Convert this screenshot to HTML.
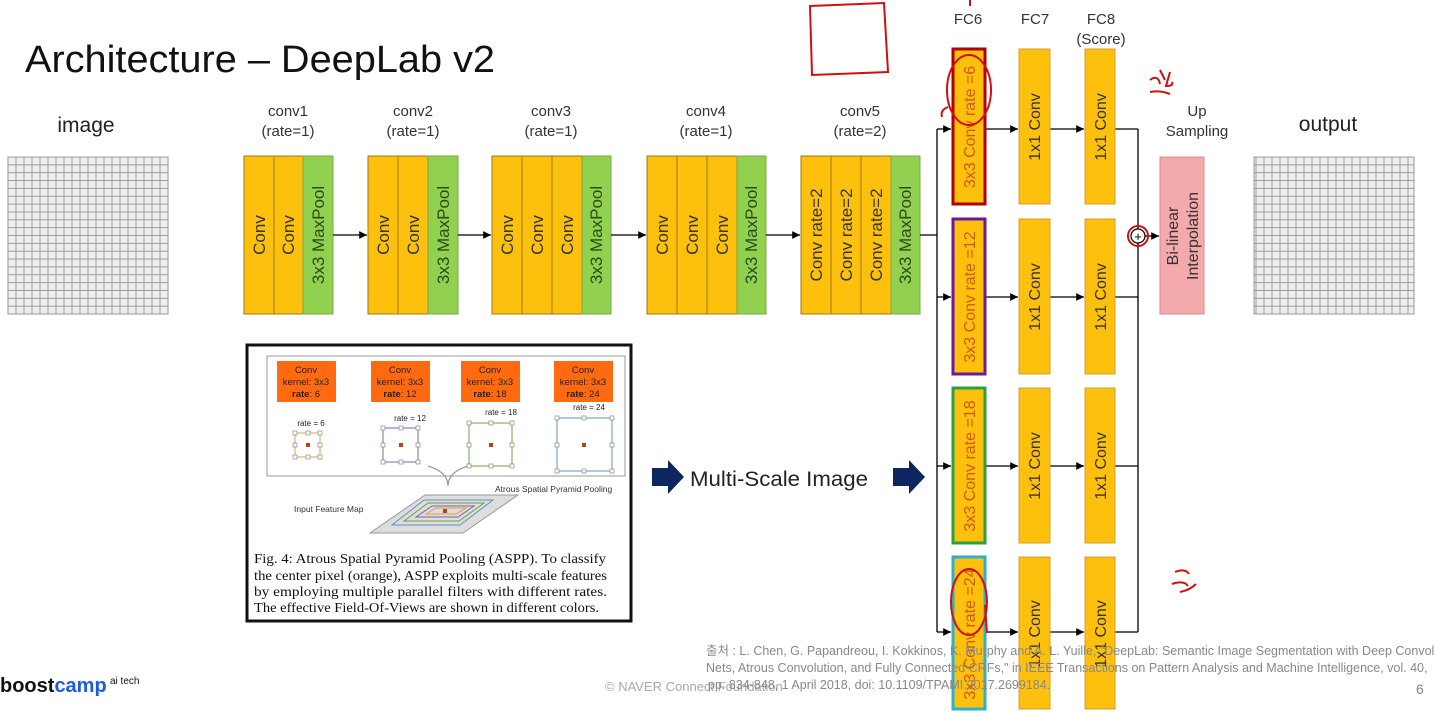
<!DOCTYPE html>
<html><head><meta charset="utf-8"><style>
html,body{margin:0;padding:0;background:#fff;}
svg{display:block;font-family:"Liberation Sans","Noto Sans CJK KR",sans-serif;}
</style></head><body>
<svg width="1435" height="714" viewBox="0 0 1435 714" xmlns="http://www.w3.org/2000/svg">
<defs>
<pattern id="g" width="8" height="7.85" patternUnits="userSpaceOnUse" x="8" y="157">
<rect width="8" height="7.85" fill="#eeeeee" stroke="#8a8a8a" stroke-width="0.8"/>
</pattern>
<marker id="a" viewBox="0 0 10 10" refX="10" refY="5" markerWidth="6" markerHeight="6" orient="auto"><path d="M0,0L10,5L0,10z" fill="#000"/></marker>
</defs>
<rect width="1435" height="714" fill="#fff"/>
<text x="25" y="72" font-size="38" fill="#111" textLength="470" lengthAdjust="spacingAndGlyphs">Architecture – DeepLab v2</text>

<text x="86" y="132" font-size="21" fill="#222" text-anchor="middle">image</text>
<rect x="8" y="157" width="160" height="157" fill="url(#g)" stroke="#999"/>
<text x="1328" y="131" font-size="21" fill="#222" text-anchor="middle">output</text>
<rect x="1254" y="157" width="160" height="157" fill="url(#g)" stroke="#999"/>

<g font-size="15" fill="#333" text-anchor="middle">
<text x="288" y="116">conv1</text><text x="288" y="136">(rate=1)</text>
<text x="413" y="116">conv2</text><text x="413" y="136">(rate=1)</text>
<text x="551" y="116">conv3</text><text x="551" y="136">(rate=1)</text>
<text x="706" y="116">conv4</text><text x="706" y="136">(rate=1)</text>
<text x="860" y="116">conv5</text><text x="860" y="136">(rate=2)</text>
<text x="968" y="24">FC6</text>
<text x="1035" y="24">FC7</text>
<text x="1101" y="24">FC8</text><text x="1101" y="44">(Score)</text>
<text x="1197" y="116">Up</text><text x="1197" y="136">Sampling</text>
</g>

<g stroke="#a07a10" stroke-width="1" font-size="17" fill="#333">
<rect x="244" y="156" width="30" height="158" fill="#fdc00d"/><rect x="274" y="156" width="29" height="158" fill="#fdc00d"/><rect x="303" y="156" width="30" height="158" fill="#92d050" stroke="#7aa84a"/>
<rect x="368" y="156" width="30" height="158" fill="#fdc00d"/><rect x="398" y="156" width="30" height="158" fill="#fdc00d"/><rect x="428" y="156" width="30" height="158" fill="#92d050" stroke="#7aa84a"/>
<rect x="492" y="156" width="30" height="158" fill="#fdc00d"/><rect x="522" y="156" width="30" height="158" fill="#fdc00d"/><rect x="552" y="156" width="30" height="158" fill="#fdc00d"/><rect x="582" y="156" width="29" height="158" fill="#92d050" stroke="#7aa84a"/>
<rect x="647" y="156" width="30" height="158" fill="#fdc00d"/><rect x="677" y="156" width="30" height="158" fill="#fdc00d"/><rect x="707" y="156" width="30" height="158" fill="#fdc00d"/><rect x="737" y="156" width="29" height="158" fill="#92d050" stroke="#7aa84a"/>
<rect x="801" y="156" width="30" height="158" fill="#fdc00d"/><rect x="831" y="156" width="30" height="158" fill="#fdc00d"/><rect x="861" y="156" width="30" height="158" fill="#fdc00d"/><rect x="891" y="156" width="29" height="158" fill="#92d050" stroke="#7aa84a"/>
</g>
<g font-size="17" fill="#333" stroke="none" text-anchor="middle">
<text transform="translate(265,235) rotate(-90)">Conv</text>
<text transform="translate(294,235) rotate(-90)">Conv</text>
<text transform="translate(324,235) rotate(-90)" fill="#2a4a1a">3x3 MaxPool</text>
<text transform="translate(389,235) rotate(-90)">Conv</text>
<text transform="translate(419,235) rotate(-90)">Conv</text>
<text transform="translate(449,235) rotate(-90)" fill="#2a4a1a">3x3 MaxPool</text>
<text transform="translate(513,235) rotate(-90)">Conv</text>
<text transform="translate(543,235) rotate(-90)">Conv</text>
<text transform="translate(573,235) rotate(-90)">Conv</text>
<text transform="translate(602,235) rotate(-90)" fill="#2a4a1a">3x3 MaxPool</text>
<text transform="translate(668,235) rotate(-90)">Conv</text>
<text transform="translate(698,235) rotate(-90)">Conv</text>
<text transform="translate(728,235) rotate(-90)">Conv</text>
<text transform="translate(757,235) rotate(-90)" fill="#2a4a1a">3x3 MaxPool</text>
<text transform="translate(822,235) rotate(-90)">Conv rate=2</text>
<text transform="translate(852,235) rotate(-90)">Conv rate=2</text>
<text transform="translate(882,235) rotate(-90)">Conv rate=2</text>
<text transform="translate(911,235) rotate(-90)" fill="#2a4a1a">3x3 MaxPool</text>
</g>
<g stroke="#000" stroke-width="1.3" fill="none">
<line x1="333" y1="235" x2="367" y2="235" marker-end="url(#a)"/>
<line x1="458" y1="235" x2="491" y2="235" marker-end="url(#a)"/>
<line x1="611" y1="235" x2="646" y2="235" marker-end="url(#a)"/>
<line x1="766" y1="235" x2="800" y2="235" marker-end="url(#a)"/>
<line x1="920" y1="235" x2="937" y2="235"/>
<line x1="937" y1="129" x2="937" y2="632"/>
<line x1="937" y1="129" x2="951" y2="129" marker-end="url(#a)"/>
<line x1="937" y1="297" x2="951" y2="297" marker-end="url(#a)"/>
<line x1="937" y1="466" x2="951" y2="466" marker-end="url(#a)"/>
<line x1="937" y1="632" x2="951" y2="632" marker-end="url(#a)"/>
<line x1="986" y1="129" x2="1018" y2="129" marker-end="url(#a)"/>
<line x1="986" y1="297" x2="1018" y2="297" marker-end="url(#a)"/>
<line x1="986" y1="466" x2="1018" y2="466" marker-end="url(#a)"/>
<line x1="986" y1="632" x2="1018" y2="632" marker-end="url(#a)"/>
<line x1="1050" y1="129" x2="1084" y2="129" marker-end="url(#a)"/>
<line x1="1050" y1="297" x2="1084" y2="297" marker-end="url(#a)"/>
<line x1="1050" y1="466" x2="1084" y2="466" marker-end="url(#a)"/>
<line x1="1050" y1="632" x2="1084" y2="632" marker-end="url(#a)"/>
<line x1="1115" y1="129" x2="1138" y2="129"/>
<line x1="1115" y1="297" x2="1138" y2="297"/>
<line x1="1115" y1="466" x2="1138" y2="466"/>
<line x1="1115" y1="632" x2="1138" y2="632"/>
<line x1="1138" y1="129" x2="1138" y2="229"/>
<line x1="1138" y1="243" x2="1138" y2="632"/>
<line x1="1145" y1="236" x2="1159" y2="236" marker-end="url(#a)"/>
</g>
<circle cx="1138" cy="236" r="7" fill="#fff" stroke="#000" stroke-width="1.2"/>
<text x="1138" y="241" font-size="13" text-anchor="middle">+</text>

<g stroke-width="3">
<rect x="953" y="49" width="32" height="155" fill="#fdc00d" stroke="#b00000"/>
<rect x="953" y="219" width="32" height="155" fill="#fdc00d" stroke="#6a1a9a"/>
<rect x="953" y="388" width="32" height="155" fill="#fdc00d" stroke="#2aa040"/>
<rect x="953" y="557" width="32" height="152" fill="#fdc00d" stroke="#2ab0d0"/>
</g>
<g fill="#fdc00d" stroke="#d0a030" stroke-width="1">
<rect x="1019" y="49" width="31" height="155"/><rect x="1019" y="219" width="31" height="155"/><rect x="1019" y="388" width="31" height="155"/><rect x="1019" y="557" width="31" height="152"/>
<rect x="1085" y="49" width="30" height="155"/><rect x="1085" y="219" width="30" height="155"/><rect x="1085" y="388" width="30" height="155"/><rect x="1085" y="557" width="30" height="152"/>
</g>
<rect x="1160" y="157" width="44" height="157" fill="#f4a9ad" stroke="#d88"/>
<g font-size="16" text-anchor="middle">
<g fill="#d05a00">
<text transform="translate(975,127) rotate(-90)">3x3 Conv rate =6</text>
<text transform="translate(975,297) rotate(-90)">3x3 Conv rate =12</text>
<text transform="translate(975,466) rotate(-90)">3x3 Conv rate =18</text>
<text transform="translate(975,634) rotate(-90)">3x3 Conv rate =24</text>
</g>
<g fill="#333">
<text transform="translate(1040,127) rotate(-90)">1x1 Conv</text>
<text transform="translate(1040,297) rotate(-90)">1x1 Conv</text>
<text transform="translate(1040,466) rotate(-90)">1x1 Conv</text>
<text transform="translate(1040,634) rotate(-90)">1x1 Conv</text>
<text transform="translate(1106,127) rotate(-90)">1x1 Conv</text>
<text transform="translate(1106,297) rotate(-90)">1x1 Conv</text>
<text transform="translate(1106,466) rotate(-90)">1x1 Conv</text>
<text transform="translate(1106,634) rotate(-90)">1x1 Conv</text>
<text transform="translate(1178,236) rotate(-90)">Bi-linear</text>
<text transform="translate(1198,236) rotate(-90)">Interpolation</text>
</g>
</g>

<rect x="247" y="345" width="384" height="276" fill="#fff" stroke="#111" stroke-width="3"/>
<rect x="267" y="356" width="358" height="120" fill="#fff" stroke="#999"/>
<g font-size="9.5" text-anchor="middle" fill="#222">
<rect x="277" y="361" width="59" height="41" fill="#ff6a10"/>
<text x="306" y="373">Conv</text><text x="306" y="385">kernel: 3x3</text><text x="306" y="397"><tspan font-weight="bold">rate</tspan>: 6</text>
<rect x="371" y="361" width="59" height="41" fill="#ff6a10"/>
<text x="400" y="373">Conv</text><text x="400" y="385">kernel: 3x3</text><text x="400" y="397"><tspan font-weight="bold">rate</tspan>: 12</text>
<rect x="461" y="361" width="59" height="41" fill="#ff6a10"/>
<text x="490" y="373">Conv</text><text x="490" y="385">kernel: 3x3</text><text x="490" y="397"><tspan font-weight="bold">rate</tspan>: 18</text>
<rect x="554" y="361" width="59" height="41" fill="#ff6a10"/>
<text x="583" y="373">Conv</text><text x="583" y="385">kernel: 3x3</text><text x="583" y="397"><tspan font-weight="bold">rate</tspan>: 24</text>
<text x="311" y="426" font-size="8">rate = 6</text>
<text x="410" y="421" font-size="8">rate = 12</text>
<text x="501" y="415" font-size="8">rate = 18</text>
<text x="589" y="410" font-size="8">rate = 24</text>
</g>
<g fill="none" stroke-width="1">
<rect x="295" y="433" width="25" height="24" stroke="#e0a040"/>
<rect x="383" y="428" width="35" height="34" stroke="#8060b0"/>
<rect x="469" y="423" width="43" height="43" stroke="#70a040"/>
<rect x="557" y="418" width="55" height="53" stroke="#6090c0"/>
<path d="M428 466 Q448 472 448 486 Q448 472 468 466" stroke="#888"/>
</g>
<g fill="#fff" stroke="#777" stroke-width="0.6">
<rect x="293" y="431" width="4" height="4"/><rect x="306" y="431" width="4" height="4"/><rect x="318" y="431" width="4" height="4"/>
<rect x="293" y="443" width="4" height="4"/><rect x="318" y="443" width="4" height="4"/>
<rect x="293" y="455" width="4" height="4"/><rect x="306" y="455" width="4" height="4"/><rect x="318" y="455" width="4" height="4"/>
<rect x="381" y="426" width="4" height="4"/><rect x="399" y="426" width="4" height="4"/><rect x="416" y="426" width="4" height="4"/>
<rect x="381" y="443" width="4" height="4"/><rect x="416" y="443" width="4" height="4"/>
<rect x="381" y="460" width="4" height="4"/><rect x="399" y="460" width="4" height="4"/><rect x="416" y="460" width="4" height="4"/>
<rect x="467" y="421" width="4" height="4"/><rect x="489" y="421" width="4" height="4"/><rect x="510" y="421" width="4" height="4"/>
<rect x="467" y="443" width="4" height="4"/><rect x="510" y="443" width="4" height="4"/>
<rect x="467" y="464" width="4" height="4"/><rect x="489" y="464" width="4" height="4"/><rect x="510" y="464" width="4" height="4"/>
<rect x="555" y="416" width="4" height="4"/><rect x="582" y="416" width="4" height="4"/><rect x="610" y="416" width="4" height="4"/>
<rect x="555" y="443" width="4" height="4"/><rect x="610" y="443" width="4" height="4"/>
<rect x="555" y="469" width="4" height="4"/><rect x="582" y="469" width="4" height="4"/><rect x="610" y="469" width="4" height="4"/>
</g>
<g fill="#c04010"><rect x="306" y="443" width="4" height="4"/><rect x="399" y="443" width="4" height="4"/><rect x="489" y="443" width="4" height="4"/><rect x="582" y="443" width="4" height="4"/></g>
<text x="495" y="492" font-size="8.5" fill="#333">Atrous Spatial Pyramid Pooling</text>
<text x="294" y="512" font-size="8.5" fill="#333">Input Feature Map</text>
<polygon points="370,533 425,495 518,495 463,533" fill="#ddd" stroke="#999"/>
<polygon points="392,525 424,500 493,500 460,525" fill="none" stroke="#6090c0"/>
<polygon points="404,521 428,503 484,503 459,521" fill="none" stroke="#70a040"/>
<polygon points="416,517 432,506 474,506 458,517" fill="none" stroke="#8060b0"/>
<polygon points="426,514 436,508 466,508 456,514" fill="none" stroke="#e0a040"/>
<rect x="443" y="509" width="4" height="4" fill="#c04010"/>
<g font-family="Liberation Serif, serif" font-size="14" fill="#111">
<text x="254" y="563" textLength="352" lengthAdjust="spacingAndGlyphs">Fig. 4: Atrous Spatial Pyramid Pooling (ASPP). To classify</text>
<text x="254" y="580" textLength="353" lengthAdjust="spacingAndGlyphs">the center pixel (orange), ASPP exploits multi-scale features</text>
<text x="254" y="596" textLength="353" lengthAdjust="spacingAndGlyphs">by employing multiple parallel filters with different rates.</text>
<text x="254" y="612" textLength="345" lengthAdjust="spacingAndGlyphs">The effective Field-Of-Views are shown in different colors.</text>
</g>

<polygon points="652,468 668,468 668,460 684,477 668,494 668,486 652,486" fill="#0d2660"/>
<text x="690" y="486" font-size="21" fill="#222" textLength="178" lengthAdjust="spacingAndGlyphs">Multi-Scale Image</text>
<polygon points="893,468 909,468 909,460 925,477 909,494 909,486 893,486" fill="#0d2660"/>

<text x="0" y="692" font-size="20" font-weight="bold" fill="#111">boost<tspan fill="#1a5ce0">camp</tspan></text>
<text x="110" y="684" font-size="10" fill="#111">ai tech</text>
<text x="605" y="691" font-size="13" fill="#aaa">© NAVER Connect Foundation</text>
<g font-size="12.5" fill="#888">
<text x="706" y="655">출처 : L. Chen, G. Papandreou, I. Kokkinos, K. Murphy and A. L. Yuille, "DeepLab: Semantic Image Segmentation with Deep Convolu</text>
<text x="706" y="672">Nets, Atrous Convolution, and Fully Connected CRFs," in IEEE Transactions on Pattern Analysis and Machine Intelligence, vol. 40, </text>
<text x="708" y="689">pp. 834-848, 1 April 2018, doi: 10.1109/TPAMI.2017.2699184.</text>
</g>
<text x="1416" y="694" font-size="14" fill="#888">6</text>

<g fill="none" stroke="#d01010" stroke-width="2">
<path d="M810 6 L884 3 L888 72 L812 75 Z"/>
<ellipse cx="969" cy="90" rx="22" ry="35"/>
<path d="M948 107 q-8 3 -6 10"/>
<ellipse cx="969" cy="602" rx="18" ry="33"/>
<path d="M985 605 l2 28"/>
<circle cx="1138" cy="236" r="10"/>
<path d="M1150 80 q8 -6 10 4 M1160 70 l5 10 M1170 72 l-4 14 q8 0 6 -4 M1150 92 q10 -2 20 2"/>
<path d="M1175 572 q10 -4 14 2 M1172 584 q12 -4 16 2 M1180 592 q10 -2 16 -8"/>
<path d="M970 0 l0 6"/>
</g>
</svg>
</body></html>
